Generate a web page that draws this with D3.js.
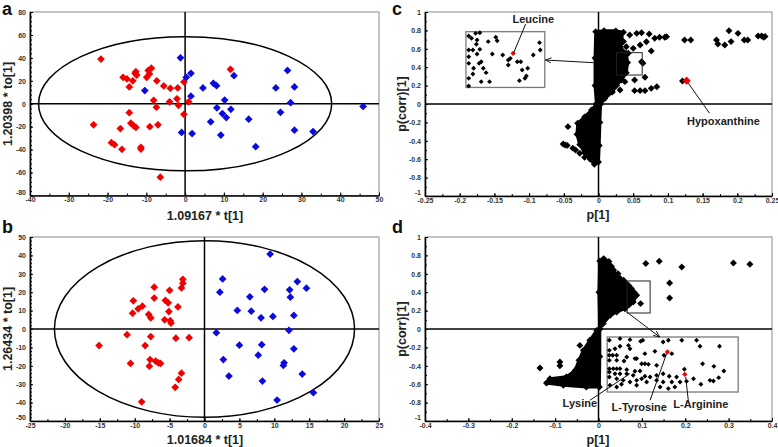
<!DOCTYPE html>
<html>
<head>
<meta charset="utf-8">
<script src="https://cdn.jsdelivr.net/npm/d3@7"></script>
<style>
  body { margin: 0; background: #fff; }
  svg { display: block; }
</style>
</head>
<body>
<div id="chart"></div>
<script>
// ---- panel a : OPLS-DA scores ----
const aRed = [[-21.7,39],[-16,23],[-15,21.6],[-13.5,20],[-14.4,14.7],[-12.7,28],[-12.5,25],[-12.9,26.5],
  [-9.5,29],[-8.7,31],[-9.9,23],[-9.2,26],[-7.3,20],[-5.5,15.5],[-3.8,13.5],[-1.9,13.8],[-0.3,19],[11.7,30],
  [-8.1,3],[-7.4,-3],[-4,1.7],[-2.1,4.3],[-1.7,-1.4],[0.9,1.7],[-0.3,-9.2],[-14.4,-7.8],[-14,-17],[-12.7,-20.7],
  [-13.3,-19],[-16.7,-21.6],[-23.6,-18.4],[-19,-34],[-18.2,-35.7],[-16.3,-39.7],[-11.4,-38],[-11.4,-39.5],
  [-9.1,-20],[-7,-18.4],[-6.4,-64]];
const aBlue = [[-1.2,40],[-10.4,11.5],[0.3,23],[1.5,26.5],[1.5,6.6],[4.6,13.8],[7.3,17.8],[8.1,15.8],[10.2,3.2],
  [12.6,24.5],[8.2,-3.5],[9.6,-8.6],[10.6,-12],[11.8,-4.9],[6.6,-15.8],[9.2,-27.3],[1.8,-26],[-0.9,-25],
  [16.4,-13.5],[18.2,-37.4],[23.4,13.8],[26.4,29],[27.2,0.9],[28.2,14.7],[24.6,-7.5],[28.2,-23],[33,-24.2],[45.9,-2.3]];
const aXTicks = [-40,-30,-20,-10,0,10,20,30,40,50];
const aYTicks = [-80,-60,-40,-20,0,20,40,60,80];
const aEllipse = [37.8, 58.5];

// ---- panel b : OPLS-DA scores ----
const bRed = [[-15.1,-9],[-11.1,-3.1],[-10.6,-18.7],[-10.2,15.3],[-10.3,8.6],[-9.5,11],[-8.9,12.4],[-9,-39.6],
  [-8.5,-9],[-8,7.9],[-7.7,6],[-7.7,-4.1],[-7.9,-20.2],[-7.8,-16.6],[-7.2,22.7],[-7.2,16.8],[-7,-17.5],
  [-6.6,-18.4],[-6.3,-18.7],[-5.7,5],[-5.6,15.5],[-5.2,14.2],[-5,21],[-5.1,9.5],[-4.9,4.5],[-4.8,3.2],
  [-4.1,-5],[-3.8,12],[-4.2,-31.7],[-3.7,-27.4],[-3.3,-24],[-3.3,22.3],[-3.1,24.9],[-3.1,27],[-2.2,-4.7]];
const bBlue = [[1.7,-2],[2.2,20],[2.6,27.2],[2.7,-16.6],[3.5,-25.6],[4.7,10.1],[5,-8.8],[6.5,17.5],[6.7,9.7],
  [7.7,-14.2],[8.1,6.1],[8.2,-8.5],[8.3,-28.3],[8.6,21.6],[9.4,40.7],[9.8,6.8],[10.4,-38.6],[11.3,-19.8],
  [11.4,-18.4],[12.1,-0.7],[12.2,21.3],[12.3,17.3],[12.8,7.4],[12.8,-10.8],[13.3,25.8],[14,-24.5],[14.6,22.2],[15.6,-34.6]];
const bXTicks = [-25,-20,-15,-10,-5,0,5,10,15,20,25];
const bYTicks = [-50,-40,-30,-20,-10,0,10,20,30,40,50];
const bEllipse = [21.5, 48];

// ---- panel c : S-plot ----
const cBlobUpper = [[-0.004,0.785],[0.008,0.797],[0.025,0.795],[0.036,0.78],[0.032,0.73],[0.036,0.68],[0.031,0.62],
  [0.04,0.55],[0.042,0.45],[0.04,0.34],[0.033,0.26],[0.026,0.2],[0.02,0.13],[0.009,0.06],[0.003,0],[-0.003,0],
  [-0.005,0.2],[-0.005,0.5]];
const cBlobLower = [[0.003,0],[0.002,-0.2],[0.001,-0.45],[0,-0.63],[-0.006,-0.655],[-0.012,-0.6],[-0.02,-0.53],
  [-0.027,-0.44],[-0.031,-0.33],[-0.03,-0.21],[-0.02,-0.14],[-0.01,-0.065],[-0.003,0]];
const cPoints = [[0.045,0.75],[0.055,0.768],[0.062,0.775],[0.073,0.761],[0.081,0.714],[0.088,0.725],[0.098,0.732],
  [0.069,0.677],[0.06,0.641],[0.05,0.605],[0.04,0.623],[0.043,0.551],[0.076,0.576],[0.064,0.442],[0.062,0.46],
  [0.052,0.261],[0.067,0.29],[0.038,0.243],[0.031,0.152],[0.052,0.145],[0.06,0.145],[0.067,0.145],[0.076,0.17],
  [0.084,0.188],[0.124,0.696],[0.133,0.696],[0.121,0.25],[0.0955,0.725],[0.17,0.696],[0.172,0.652],[0.182,0.641],
  [0.188,0.797],[0.201,0.768],[0.191,0.678],[0.21,0.696],[0.215,0.696],[0.23,0.74],[0.235,0.74],[0.24,0.735],
  [0.238,0.725],[-0.044,-0.246],[-0.051,-0.435],[-0.048,-0.445],[-0.045,-0.45],[-0.037,-0.48],[-0.033,-0.5],
  [-0.027,-0.536],[-0.02,-0.58],[-0.003,-0.63]];
const cInset = [[-0.187,0.739],[-0.177,0.768],[-0.171,0.775],[-0.183,0.714],[-0.175,0.696],[-0.159,0.678],
  [-0.148,0.725],[-0.146,0.688],[-0.176,0.649],[-0.187,0.587],[-0.181,0.587],[-0.171,0.594],[-0.187,0.514],
  [-0.175,0.543],[-0.169,0.46],[-0.172,0.442],[-0.187,0.442],[-0.18,0.388],[-0.166,0.388],[-0.162,0.341],
  [-0.181,0.326],[-0.187,0.279],[-0.169,0.243],[-0.157,0.243],[-0.187,0.196],[-0.153,0.543],[-0.138,0.533],
  [-0.13,0.424],[-0.127,0.496],[-0.13,0.478],[-0.117,0.46],[-0.112,0.46],[-0.11,0.37],[-0.106,0.279],
  [-0.104,0.304],[-0.114,0.254],[-0.094,0.533],[-0.085,0.667],[-0.084,0.587],[-0.102,0.388]];
const cRed = [[0.127,0.254]];
const cInsetRed = [[-0.123,0.551]];
const cXTicks = [-0.25,-0.2,-0.15,-0.1,-0.05,0,0.05,0.1,0.15,0.2,0.25];
const cYTicks = [-1,-0.8,-0.6,-0.4,-0.2,0,0.2,0.4,0.6,0.8,1];

// ---- panel d : S-plot ----
const dBlobUpper = [[0.003,0],[0.011,0.059],[0.027,0.149],[0.042,0.185],[0.061,0.221],[0.08,0.293],[0.088,0.366],
  [0.076,0.439],[0.065,0.493],[0.05,0.548],[0.038,0.6],[0.03,0.68],[0.024,0.735],[0.012,0.765],[0.003,0.74],[0.001,0.4]];
const dBlobLower = [[0.003,0],[0.003,-0.3],[0.002,-0.63],[-0.028,-0.63],[-0.081,-0.612],[-0.12,-0.587],
  [-0.112,-0.54],[-0.074,-0.52],[-0.054,-0.45],[-0.045,-0.34],[-0.035,-0.232],[-0.02,-0.123],[-0.004,-0.015]];
const dPoints = [[0.109,0.711],[0.14,0.736],[0.192,0.674],[0.164,0.5],[0.164,0.337],[0.311,0.718],[0.349,0.703],
  [0.097,0.276],[0.045,0.6],[0.058,0.53],[0.07,0.47],[0.082,0.4],[0.085,0.36],[0.07,0.26],[0.05,0.22],[0.03,0.17],
  [0.02,0.68],[0.035,0.64],[-0.135,-0.424],[-0.089,-0.359],[-0.089,-0.4],[-0.043,-0.178],[-0.104,-0.558],
  [-0.116,-0.576],[-0.066,-0.565],[-0.054,-0.467],[-0.095,-0.575]];
const dInset = [[0.025,-0.123],[0.0496,-0.105],[0.0726,-0.116],[0.097,-0.134],[0.102,-0.123],[0.149,-0.141],
  [0.161,-0.123],[0.192,-0.123],[0.226,-0.123],[0.025,-0.232],[0.038,-0.214],[0.0496,-0.188],[0.069,-0.178],
  [0.0726,-0.214],[0.025,-0.286],[0.0327,-0.286],[0.042,-0.286],[0.065,-0.304],[0.084,-0.322],[0.088,-0.322],
  [0.0995,-0.377],[0.107,-0.377],[0.115,-0.384],[0.025,-0.341],[0.042,-0.341],[0.0588,-0.348],[0.025,-0.431],
  [0.034,-0.431],[0.042,-0.431],[0.0496,-0.431],[0.065,-0.442],[0.084,-0.46],[0.0957,-0.457],[0.025,-0.467],
  [0.038,-0.486],[0.0496,-0.486],[0.065,-0.486],[0.08,-0.504],[0.107,-0.514],[0.119,-0.522],[0.134,-0.504],
  [0.149,-0.486],[0.163,-0.514],[0.18,-0.522],[0.025,-0.522],[0.042,-0.54],[0.057,-0.558],[0.0726,-0.576],
  [0.088,-0.558],[0.0995,-0.54],[0.111,-0.576],[0.134,-0.558],[0.149,-0.576],[0.169,-0.576],[0.0265,-0.612],
  [0.042,-0.63],[0.053,-0.601],[0.088,-0.612],[0.142,-0.63],[0.161,-0.648],[0.176,-0.63],[0.234,-0.188],
  [0.24,-0.377],[0.266,-0.406],[0.279,-0.188],[0.289,-0.457],[0.257,-0.558],[0.265,-0.565],[0.277,-0.529],
  [0.236,-0.601],[0.198,-0.438],[0.169,-0.268],[0.151,-0.286],[0.13,-0.243],[0.134,-0.395],[0.107,-0.268],
  [0.188,-0.576],[0.203,-0.569],[0.219,-0.54]];
const dInsetRed = [[0.159,-0.25],[0.199,-0.493]];
const dXTicks = [-0.4,-0.3,-0.2,-0.1,0,0.1,0.2,0.3,0.4];
const dYTicks = [-1,-0.8,-0.6,-0.4,-0.2,0,0.2,0.4,0.6,0.8,1];

// annotations (data units)
const cLabels = [
  {text: "Leucine", at: [-0.094, 0.915], from: [-0.105, 0.87], to: [-0.122, 0.56]},
  {text: "Hypoxanthine", at: [0.18, -0.192], from: [0.16, -0.1], to: [0.129, 0.23]}
];
const dLabels = [
  {text: "Lysine", at: [-0.043, -0.82], from: [-0.02, -0.775], to: [0.0726, -0.485]},
  {text: "L-Tyrosine", at: [0.094, -0.86], from: [0.119, -0.775], to: [0.157, -0.267]},
  {text: "L-Arginine", at: [0.236, -0.83], from: [0.207, -0.775], to: [0.201, -0.52]}
];

const red = "#f00000", blue = "#0a0ae0";

const svg = d3.select("#chart").append("svg")
  .attr("width", 778).attr("height", 447)
  .style("font-family", "'Liberation Sans', Arial, sans-serif");

svg.append("defs").append("marker")
  .attr("id", "arrow").attr("viewBox", "0 -4 8 8")
  .attr("refX", 7).attr("refY", 0)
  .attr("markerWidth", 7).attr("markerHeight", 7)
  .attr("orient", "auto")
  .append("path").attr("d", "M0,-3L7,0L0,3")
  .attr("fill", "none").attr("stroke", "#111").attr("stroke-width", 1);

function diamonds(g, data, x, y, size, color) {
  g.append("g").selectAll("path").data(data).join("path")
    .attr("d", d3.symbol(d3.symbolSquare, size))
    .attr("transform", d => `translate(${x(d[0])},${y(d[1])}) rotate(45)`)
    .attr("fill", color);
}

function makePanel(box, xDom, yDom, xTicks, yTicks, xMinor, yMinor) {
  const g = svg.append("g");
  const x = d3.scaleLinear().domain(xDom).range([box.left, box.right]);
  const y = d3.scaleLinear().domain(yDom).range([box.bottom, box.top]);

  g.append("rect")
    .attr("x", box.left).attr("y", box.top)
    .attr("width", box.right - box.left).attr("height", box.bottom - box.top)
    .attr("fill", "none").attr("stroke", "#8a8a8a").attr("stroke-width", 1);

  const fmt = d => String(d);
  g.append("g").attr("transform", `translate(0,${box.bottom})`)
    .call(d3.axisBottom(x).tickValues(xTicks).tickSizeInner(-3).tickSizeOuter(0).tickPadding(2).tickFormat(fmt));
  g.append("g").attr("transform", `translate(0,${box.bottom})`)
    .call(d3.axisBottom(x).tickValues(xMinor).tickSize(-2).tickFormat(""))
    .select(".domain").remove();
  const ya = g.append("g").attr("transform", `translate(${box.left},0)`)
    .call(d3.axisLeft(y).tickValues(yTicks).tickSizeInner(-3).tickSizeOuter(0).tickPadding(4).tickFormat(fmt));
  // lowest y label sits a little higher, clear of the x labels
  ya.selectAll(".tick text").filter(d => d === yTicks[0]).attr("dy", "-0.15em");
  g.append("g").attr("transform", `translate(${box.left},0)`)
    .call(d3.axisLeft(y).tickValues(yMinor).tickSize(-2).tickFormat(""))
    .select(".domain").remove();

  g.selectAll(".domain").attr("stroke", "#000").attr("stroke-width", 1.6);
  g.selectAll(".tick line").attr("stroke", "#000").attr("stroke-width", 1);
  g.selectAll(".tick text").attr("font-size", 7).attr("font-weight", "bold").attr("fill", "#333")
    .attr("font-family", "'Liberation Sans', Arial, sans-serif");

  return {g, x, y};
}

function zeroLines(p, box) {
  p.g.append("line").attr("x1", p.x(0)).attr("x2", p.x(0)).attr("y1", box.top).attr("y2", box.bottom)
    .attr("stroke", "#000").attr("stroke-width", 1.5);
  p.g.append("line").attr("x1", box.left).attr("x2", box.right).attr("y1", p.y(0)).attr("y2", p.y(0))
    .attr("stroke", "#000").attr("stroke-width", 1.5);
}

function title(text, x, y, rotate) {
  const t = svg.append("text").text(text)
    .attr("font-size", 12.5).attr("font-weight", "bold").attr("fill", "#222")
    .attr("text-anchor", "middle");
  if (rotate) t.attr("transform", `translate(${x},${y}) rotate(-90)`);
  else t.attr("x", x).attr("y", y);
}

function letter(text, x, y) {
  svg.append("text").text(text).attr("x", x).attr("y", y)
    .attr("font-size", 18).attr("font-weight", "bold").attr("fill", "#111");
}

function range(a, b, s) { return d3.range(Math.round((b - a) / s) + 1).map(i => +(a + i * s).toFixed(4)); }

// ---------- a ----------
const boxA = {left: 30, right: 379, top: 12, bottom: 195.5};
const pa = makePanel(boxA, [-40, 50], [-80, 80], aXTicks, aYTicks, range(-40, 50, 5), range(-80, 80, 4));
pa.g.append("ellipse").attr("cx", pa.x(0)).attr("cy", pa.y(0))
  .attr("rx", pa.x(aEllipse[0]) - pa.x(0)).attr("ry", pa.y(0) - pa.y(aEllipse[1]))
  .attr("fill", "none").attr("stroke", "#000").attr("stroke-width", 1.5);
zeroLines(pa, boxA);
diamonds(pa.g, aRed, pa.x, pa.y, 30, red);
diamonds(pa.g, aBlue, pa.x, pa.y, 30, blue);

// ---------- b ----------
const boxB = {left: 30, right: 379, top: 237, bottom: 421};
const pb = makePanel(boxB, [-25, 25], [-50, 50], bXTicks, bYTicks, range(-25, 25, 2.5), range(-50, 50, 2));
pb.g.append("ellipse").attr("cx", pb.x(0)).attr("cy", pb.y(0))
  .attr("rx", pb.x(bEllipse[0]) - pb.x(0)).attr("ry", pb.y(0) - pb.y(bEllipse[1]))
  .attr("fill", "none").attr("stroke", "#000").attr("stroke-width", 1.5);
zeroLines(pb, boxB);
diamonds(pb.g, bRed, pb.x, pb.y, 30, red);
diamonds(pb.g, bBlue, pb.x, pb.y, 30, blue);

// ---------- c ----------
const boxC = {left: 425, right: 772, top: 12, bottom: 196};
const pc = makePanel(boxC, [-0.25, 0.25], [-1, 1], cXTicks, cYTicks, range(-0.25, 0.25, 0.025), range(-1, 1, 0.1));
zeroLines(pc, boxC);
const blobLineC = d3.line().x(d => pc.x(d[0])).y(d => pc.y(d[1])).curve(d3.curveLinearClosed);
[cBlobUpper, cBlobLower].forEach(b => {
  pc.g.append("path").attr("d", blobLineC(b)).attr("fill", "#000").attr("stroke", "#000")
    .attr("stroke-width", 3).attr("stroke-linejoin", "round");
  diamonds(pc.g, b, pc.x, pc.y, 24, "#000");
});
diamonds(pc.g, cPoints, pc.x, pc.y, 24, "#000");
diamonds(pc.g, cRed, pc.x, pc.y, 34, red);
// zoom box and inset
pc.g.append("rect").attr("x", pc.x(0.026)).attr("y", pc.y(0.558))
  .attr("width", pc.x(0.063) - pc.x(0.026)).attr("height", pc.y(0.315) - pc.y(0.558))
  .attr("fill", "none").attr("stroke", "#222").attr("stroke-width", 1);
pc.g.append("rect").attr("x", pc.x(-0.191)).attr("y", pc.y(0.786))
  .attr("width", pc.x(-0.0774) - pc.x(-0.191)).attr("height", pc.y(0.18) - pc.y(0.786))
  .attr("fill", "#fff").attr("stroke", "#7a7a7a").attr("stroke-width", 1.3);
diamonds(pc.g, cInset, pc.x, pc.y, 12, "#000");
diamonds(pc.g, cInsetRed, pc.x, pc.y, 14, red);
pc.g.append("line").attr("x1", pc.x(-0.007)).attr("y1", pc.y(0.449))
  .attr("x2", pc.x(-0.0765)).attr("y2", pc.y(0.478))
  .attr("stroke", "#111").attr("stroke-width", 1).attr("marker-end", "url(#arrow)");

// ---------- d ----------
const boxD = {left: 425, right: 772, top: 237, bottom: 421};
const pd = makePanel(boxD, [-0.4, 0.4], [-1, 1], dXTicks, dYTicks, range(-0.4, 0.4, 0.05), range(-1, 1, 0.1));
zeroLines(pd, boxD);
const blobLineD = d3.line().x(d => pd.x(d[0])).y(d => pd.y(d[1])).curve(d3.curveLinearClosed);
[dBlobUpper, dBlobLower].forEach(b => {
  pd.g.append("path").attr("d", blobLineD(b)).attr("fill", "#000").attr("stroke", "#000")
    .attr("stroke-width", 3).attr("stroke-linejoin", "round");
  diamonds(pd.g, b, pd.x, pd.y, 24, "#000");
});
diamonds(pd.g, dPoints, pd.x, pd.y, 24, "#000");
pd.g.append("rect").attr("x", pd.x(0.066)).attr("y", pd.y(0.522))
  .attr("width", pd.x(0.119) - pd.x(0.066)).attr("height", pd.y(0.174) - pd.y(0.522))
  .attr("fill", "none").attr("stroke", "#222").attr("stroke-width", 1);
pd.g.append("rect").attr("x", pd.x(0.02)).attr("y", pd.y(-0.087))
  .attr("width", pd.x(0.322) - pd.x(0.02)).attr("height", pd.y(-0.685) - pd.y(-0.087))
  .attr("fill", "#fff").attr("stroke", "#7a7a7a").attr("stroke-width", 1.3);
diamonds(pd.g, dInset, pd.x, pd.y, 12, "#000");
diamonds(pd.g, dInsetRed, pd.x, pd.y, 14, red);
pd.g.append("line").attr("x1", pd.x(0.065)).attr("y1", pd.y(0.185))
  .attr("x2", pd.x(0.141)).attr("y2", pd.y(-0.087))
  .attr("stroke", "#111").attr("stroke-width", 1).attr("marker-end", "url(#arrow)");

// labels with leader lines
function labels(p, list) {
  list.forEach(l => {
    p.g.append("line").attr("x1", p.x(l.from[0])).attr("y1", p.y(l.from[1]))
      .attr("x2", p.x(l.to[0])).attr("y2", p.y(l.to[1]))
      .attr("stroke", "#111").attr("stroke-width", 1);
    p.g.append("text").text(l.text).attr("x", p.x(l.at[0])).attr("y", p.y(l.at[1]))
      .attr("text-anchor", "middle").attr("dominant-baseline", "middle")
      .attr("font-size", 11).attr("font-weight", "bold").attr("fill", "#222");
  });
}
labels(pc, cLabels);
labels(pd, dLabels);

// titles and panel letters
title("1.09167 * t[1]", 205, 220);
title("1.20398 * to[1]", 12, 104, true);
title("1.01684 * t[1]", 205, 444);
title("1.26434 * to[1]", 12, 329, true);
title("p[1]", 598, 219);
title("p(corr)[1]", 406, 104, true);
title("p[1]", 598, 444);
title("p(corr)[1]", 406, 329, true);
letter("a", 2, 15);
letter("b", 2, 233);
letter("c", 392, 15);
letter("d", 392, 233);
</script>
</body>
</html>
